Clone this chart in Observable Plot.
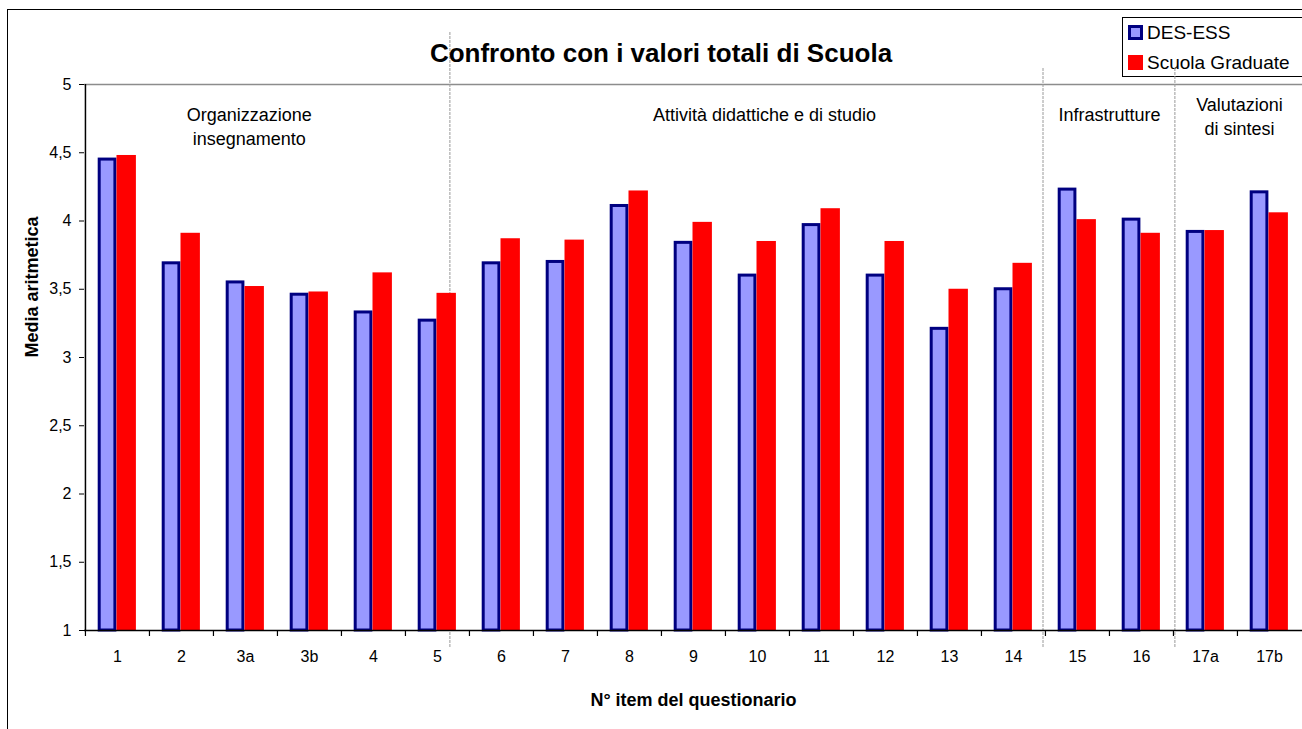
<!DOCTYPE html>
<html>
<head>
<meta charset="utf-8">
<script src="https://cdn.jsdelivr.net/npm/d3@7"></script>
<script src="https://cdn.jsdelivr.net/npm/@observablehq/plot@0.6"></script>
<style>
  html, body { margin: 0; padding: 0; background: #fff; overflow: hidden; }
  #wrap { position: relative; width: 1302px; height: 729px; overflow: hidden; font-family: "Liberation Sans", Arial, sans-serif; }
  #frame { position: absolute; left: 7px; top: 9px; width: 1400px; height: 900px; border: 1.5px solid #000; box-sizing: border-box; }
  #chart { position: absolute; left: 0; top: 0; }
  #legend { position: absolute; left: 1122px; top: 17px; width: 300px; height: 60px; border: 1.5px solid #000; box-sizing: border-box; background: #fff; }
  .lg-row { position: absolute; left: 5px; height: 20px; display: flex; align-items: center; font-size: 19px; color: #000; white-space: nowrap; }
  .lg-sw { width: 15px; height: 15px; box-sizing: border-box; margin-right: 4px; }
</style>
</head>
<body>
<div id="wrap">
  <div id="frame"></div>
  <div id="legend"></div>
  <div id="chart"></div>
</div>
<script>
// ---- data ----
const items = ["1","2","3a","3b","4","5","6","7","8","9","10","11","12","13","14","15","16","17a","17b"];
const desEss = [4.45,3.69,3.55,3.46,3.33,3.27,3.69,3.70,4.11,3.84,3.60,3.97,3.60,3.21,3.50,4.23,4.01,3.92,4.21];
const scuola = [4.48,3.91,3.52,3.48,3.62,3.47,3.87,3.86,4.22,3.99,3.85,4.09,3.85,3.50,3.69,4.01,3.91,3.93,4.06];
const seriesNames = ["DES-ESS", "Scuola Graduate"];
const yTicks = [1, 1.5, 2, 2.5, 3, 3.5, 4, 4.5, 5];
const groupLabels = ["Organizzazione\ninsegnamento", "Attività didattiche e di studio", "Infrastrutture", "Valutazioni\ndi sintesi"];
const groupAnchors = ["3a", "10", "15", "17a"];
const separatorAfter = ["5", "14", "16"];
const titleText = "Confronto con i valori totali di Scuola";
const xTitle = "N° item del questionario";
const yTitle = "Media aritmetica";

// ---- layout ----
const W = 1302, H = 729, ML = 84, MR = 0, MT = 84, MB = 99;
const bw = (W - ML - MR) / items.length;
const ppu = (H - MT - MB) / 4;
const yAt = px => 1 + (H - MB - px) / ppu;

const blueRows = items.map((item, i) => ({item, value: desEss[i]}));
const redRows = items.map((item, i) => ({item, value: scuola[i]}));

const sepStyle = {stroke: "#9a9a9a", strokeWidth: 1, strokeDasharray: "3,1"};
const sepDx = [12.4, 29.5, 33.4];
const sepTop = [32, 68, 68];
const grpDx = [3.7, 7, 32, 34];
const grpDy = [41, 29, 29, 31];

const chart = Plot.plot({
  width: W, height: H,
  marginLeft: ML, marginRight: MR, marginTop: MT, marginBottom: MB,
  style: {fontFamily: "'Liberation Sans', Arial, sans-serif", fontSize: "16px", color: "#000", background: "transparent", overflow: "visible"},
  x: {domain: items, padding: 0, label: null, axis: null},
  y: {domain: [1, 5], label: null, axis: null},
  marks: [
    Plot.ruleY([5], {stroke: "#8c8c8c", strokeWidth: 1.5}),
    ...separatorAfter.map((s, k) => Plot.ruleX([s], {dx: sepDx[k], y1: yAt(sepTop[k]), y2: yAt(647), ...sepStyle})),
    Plot.barY(blueRows, {x: "item", y1: 1, y2: "value", fill: "#9999FF", stroke: "#000080", strokeWidth: 3, insetLeft: 14.2, insetRight: 34.1}),
    Plot.barY(redRows, {x: "item", y1: 1, y2: "value", fill: "#FF0000", insetLeft: 31.5, insetRight: 13.1}),
    Plot.ruleY([1], {stroke: "#000", strokeWidth: 1.5}),
    Plot.ruleX([items[0]], {dx: -bw / 2, y1: 1, y2: 5, stroke: "#000", strokeWidth: 1.5}),
    Plot.ruleX(items, {dx: -bw / 2, y1: 1, y2: yAt(H - MB + 6), stroke: "#000", strokeWidth: 1.2}),
    Plot.axisY({ticks: yTicks, tickSize: 5, tickPadding: 8, tickFormat: d => String(d).replace(".", ","), fontSize: 16, label: null}),
    Plot.axisX({tickSize: 0, tickPadding: 20, fontSize: 16, label: null}),
    ...groupLabels.map((g, k) => Plot.text([g], {x: () => groupAnchors[k], frameAnchor: "top", lineAnchor: "middle", dx: grpDx[k], dy: grpDy[k], fontSize: 18, lineHeight: 1.33, textAnchor: "middle"})),
    Plot.text([titleText], {frameAnchor: "top-left", lineAnchor: "middle", dx: 660.5 - ML, dy: 53.5 - MT, textAnchor: "middle", fontSize: 26, fontWeight: "bold"}),
    Plot.text([yTitle], {frameAnchor: "left", lineAnchor: "middle", dx: 32 - ML, rotate: -90, fontSize: 18, fontWeight: "bold"}),
    Plot.text([xTitle], {frameAnchor: "bottom", lineAnchor: "middle", dy: 700 - (H - MB), fontSize: 18, fontWeight: "bold"})
  ]
});
document.getElementById("chart").appendChild(chart);

// legend
const legend = document.getElementById("legend");
const swStyles = [
  {background: "#9999FF", border: "3px solid #000080"},
  {background: "#FF0000", border: "none"}
];
seriesNames.forEach((name, k) => {
  const row = document.createElement("div");
  row.className = "lg-row";
  row.style.top = (k === 0 ? 4.5 : 34.5) + "px";
  const sw = document.createElement("span");
  sw.className = "lg-sw";
  Object.assign(sw.style, swStyles[k]);
  const t = document.createElement("span");
  t.textContent = name;
  row.appendChild(sw);
  row.appendChild(t);
  legend.appendChild(row);
});
</script>
</body>
</html>
